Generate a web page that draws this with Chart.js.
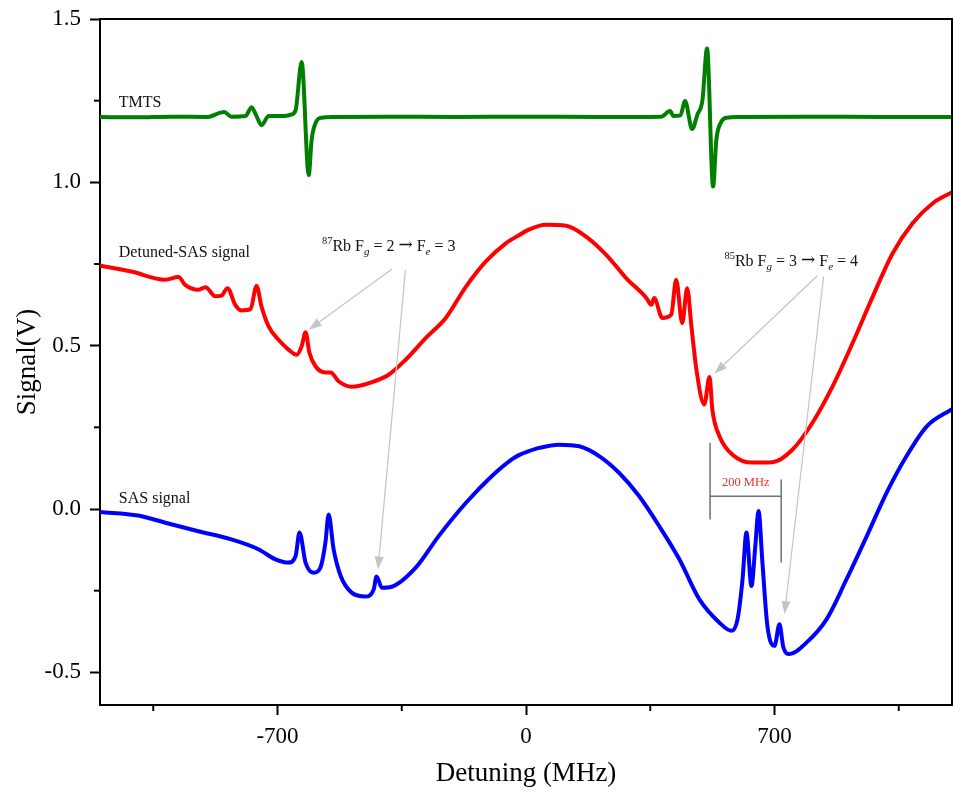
<!DOCTYPE html>
<html><head><meta charset="utf-8">
<script src="https://cdn.jsdelivr.net/npm/chart.js@4.4.1/dist/chart.umd.min.js"></script>
<style>html,body{margin:0;padding:0;background:#fff;}#wrap{width:953px;height:796px;}</style>
</head><body><div id="wrap"><canvas id="c" width="953" height="796"></canvas></div>
<script>
// ---- data (Detuning in MHz, Signal in V) ----
const tmtsX = [-1200,-1100,-1000,-900,-850,-830,-790,-773,-760,-745,-725,-680,-660,-649,-632,-612,-604,-593,-576,-540,-400,-200,0,200,380,406,415,435,448,468,483,497,510,527,536,550,565,600,800,1000,1200];
const tmtsY = [1.200,1.199,1.201,1.200,1.215,1.201,1.203,1.230,1.205,1.175,1.203,1.203,1.208,1.221,1.368,1.022,1.129,1.181,1.198,1.200,1.201,1.200,1.201,1.200,1.201,1.218,1.203,1.205,1.249,1.163,1.208,1.251,1.410,0.987,1.129,1.185,1.198,1.200,1.201,1.200,1.200];

const detunedX = [-1200,-1112,-1016,-979,-960,-923,-903,-875,-858,-841,-819,-802,-776,-759,-745,-725,-697,-669,-646,-632,-621,-610,-593,-565,-550,-528,-491,-435,-387,-339,-282,-226,-169,-113,-56,-20,8,56,113,169,226,282,339,353,361,384,409,423,440,454,466,480,502,517,525,545,581,638,694,751,807,864,920,977,1033,1089,1146,1200];
const detunedY = [0.745,0.727,0.702,0.710,0.686,0.671,0.679,0.651,0.653,0.676,0.625,0.608,0.612,0.683,0.620,0.559,0.518,0.488,0.472,0.498,0.541,0.478,0.437,0.418,0.418,0.391,0.374,0.388,0.411,0.457,0.524,0.585,0.681,0.758,0.814,0.838,0.855,0.870,0.867,0.834,0.778,0.707,0.646,0.625,0.646,0.585,0.595,0.702,0.569,0.676,0.559,0.427,0.320,0.404,0.304,0.223,0.167,0.142,0.143,0.182,0.264,0.376,0.508,0.651,0.783,0.875,0.936,0.970];

const sasX = [-1200,-1092,-1016,-923,-830,-754,-706,-669,-649,-638,-621,-598,-579,-565,-556,-542,-522,-491,-452,-429,-421,-406,-378,-310,-246,-169,-96,-40,-20,8,37,93,150,206,262,319,375,432,488,545,579,596,610,621,635,646,655,666,680,700,714,725,742,790,847,903,960,1016,1072,1129,1200];
const sasY = [-0.009,-0.020,-0.042,-0.068,-0.093,-0.123,-0.154,-0.164,-0.144,-0.072,-0.164,-0.195,-0.179,-0.103,-0.017,-0.123,-0.205,-0.256,-0.268,-0.246,-0.207,-0.241,-0.238,-0.179,-0.083,0.019,0.101,0.152,0.165,0.177,0.187,0.197,0.192,0.162,0.111,0.039,-0.052,-0.154,-0.276,-0.348,-0.373,-0.337,-0.215,-0.072,-0.236,-0.113,-0.006,-0.164,-0.358,-0.419,-0.353,-0.424,-0.444,-0.409,-0.337,-0.215,-0.083,0.050,0.162,0.253,0.306];

const xMajorTicks = [-700, 0, 700];
const xMinorTicks = [-1050, -350, 350, 1050];
const yMajorTicks = [-0.5, 0.0, 0.5, 1.0, 1.5];
const yMinorTicks = [-0.25, 0.25, 0.75, 1.25];

const FONT = "'Liberation Serif','Times New Roman',serif";

function pts(xs, ys) { return xs.map((x, i) => ({x: x, y: ys[i]})); }

// annotation layout in data coordinates
const labels = [
  {text: 'TMTS', x: -1147, y: 1.2295},
  {text: 'Detuned-SAS signal', x: -1147, y: 0.771},
  {text: 'SAS signal', x: -1147, y: 0.019}
];
const richLabels = [
  {x: -575, y: 0.790, iso: '87', g: '2', e: '3'},
  {x: 559, y: 0.7445, iso: '85', g: '3', e: '4'}
];
const arrows = [
  [-377, 0.735, -612, 0.549],
  [-339.6, 0.732, -417, -0.185],
  [820.5, 0.714, 530.6, 0.414],
  [838.3, 0.712, 728.2, -0.322]
];

const overlay = {
  id: 'overlay',
  afterDraw(chart) {
    const ctx = chart.ctx, xs = chart.scales.x, ys = chart.scales.y, a = chart.chartArea;
    const X = v => xs.getPixelForValue(v), Y = v => ys.getPixelForValue(v);
    ctx.save();
    // frame top/right
    ctx.strokeStyle = '#000'; ctx.lineWidth = 2;
    ctx.beginPath();
    ctx.moveTo(a.left, a.top); ctx.lineTo(a.right, a.top); ctx.lineTo(a.right, a.bottom);
    ctx.stroke();
    // minor ticks
    ctx.lineWidth = 2;
    xMinorTicks.forEach(v => { const p = X(v); ctx.beginPath(); ctx.moveTo(p, a.bottom); ctx.lineTo(p, a.bottom + 6); ctx.stroke(); });
    yMinorTicks.forEach(v => { const p = Y(v); ctx.beginPath(); ctx.moveTo(a.left, p); ctx.lineTo(a.left - 6, p); ctx.stroke(); });

    // arrows
    ctx.strokeStyle = '#c4c4c4'; ctx.fillStyle = '#c4c4c4'; ctx.lineWidth = 1.2;
    arrows.forEach(([x1, y1, x2, y2]) => {
      const px1 = X(x1), py1 = Y(y1), px2 = X(x2), py2 = Y(y2);
      const ang = Math.atan2(py2 - py1, px2 - px1);
      const L = 13, W = 4.5;
      const bx = px2 - L * Math.cos(ang), by = py2 - L * Math.sin(ang);
      ctx.beginPath(); ctx.moveTo(px1, py1); ctx.lineTo(bx, by); ctx.stroke();
      ctx.beginPath();
      ctx.moveTo(px2, py2);
      ctx.lineTo(bx + W * Math.sin(ang), by - W * Math.cos(ang));
      ctx.lineTo(bx - W * Math.sin(ang), by + W * Math.cos(ang));
      ctx.closePath(); ctx.fill();
    });

    // bracket 200 MHz
    ctx.strokeStyle = '#707070'; ctx.lineWidth = 1.5;
    ctx.beginPath();
    ctx.moveTo(X(518.5), Y(0.203)); ctx.lineTo(X(518.5), Y(-0.032));
    ctx.moveTo(X(718.9), Y(0.090)); ctx.lineTo(X(718.9), Y(-0.164));
    ctx.moveTo(X(518.5), Y(0.039)); ctx.lineTo(X(718.9), Y(0.039));
    ctx.stroke();
    ctx.fillStyle = '#ee3030'; ctx.font = '12.5px ' + FONT; ctx.textAlign = 'center'; ctx.textBaseline = 'alphabetic';
    ctx.fillText('200 MHz', X(619), Y(0.069));

    // plain labels
    ctx.fillStyle = '#111'; ctx.textAlign = 'left'; ctx.font = '16px ' + FONT;
    labels.forEach(l => ctx.fillText(l.text, X(l.x), Y(l.y)));

    // rich labels
    richLabels.forEach(r => {
      let x = X(r.x); const y = Y(r.y);
      const seg = (t, font, dy) => { ctx.font = font; ctx.fillText(t, x, y + dy); x += ctx.measureText(t).width; };
      seg(r.iso, '10.5px ' + FONT, -7);
      seg('Rb F', '16px ' + FONT, 0);
      seg('g', 'italic 11px ' + FONT, 4);
      seg(' = ' + r.g + ' ', '16px ' + FONT, 0);
      seg('\u2192', "17px 'DejaVu Serif'", -0.5);
      seg(' F', '16px ' + FONT, 0);
      seg('e', 'italic 11px ' + FONT, 4);
      seg(' = ' + r.e, '16px ' + FONT, 0);
    });
    ctx.restore();
  }
};

const lineDs = (label, xs, ys, color) => ({
  label, data: pts(xs, ys), borderColor: color, backgroundColor: color,
  borderWidth: 4, pointRadius: 0, cubicInterpolationMode: 'monotone', fill: false
});

new Chart(document.getElementById('c'), {
  type: 'line',
  data: { datasets: [
    lineDs('TMTS', tmtsX, tmtsY, '#008000'),
    lineDs('Detuned-SAS signal', detunedX, detunedY, '#ff0000'),
    lineDs('SAS signal', sasX, sasY, '#0000ff')
  ]},
  options: {
    responsive: false, animation: false, devicePixelRatio: 1,
    layout: { padding: { top: 19, right: 1, left: 0, bottom: 0 } },
    plugins: { legend: { display: false }, tooltip: { enabled: false } },
    scales: {
      x: {
        type: 'linear', min: -1200, max: 1200,
        afterBuildTicks: ax => { ax.ticks = xMajorTicks.map(v => ({value: v})); },
        afterFit: s => { s.height = 91; s.paddingLeft = 0; s.paddingRight = 0; },
        ticks: { color: '#000', font: { family: FONT, size: 23 }, padding: 8, maxRotation: 0, autoSkip: false, callback: v => String(v) },
        grid: { display: true, drawOnChartArea: false, drawTicks: true, tickLength: 10, tickWidth: 2, tickColor: '#000' },
        border: { display: true, color: '#000', width: 2 },
        title: { display: true, text: 'Detuning (MHz)', color: '#000', font: { family: FONT, size: 27 }, padding: { top: 0, bottom: 6 } }
      },
      y: {
        type: 'linear', min: -0.6, max: 1.5,
        afterBuildTicks: ax => { ax.ticks = yMajorTicks.map(v => ({value: v})); },
        afterFit: s => { s.width = 100; s.paddingTop = 0; s.paddingBottom = 0; },
        ticks: { color: '#000', font: { family: FONT, size: 23 }, padding: 9, autoSkip: false, callback: v => Number(v).toFixed(1) },
        grid: { display: true, drawOnChartArea: false, drawTicks: true, tickLength: 10, tickWidth: 2, tickColor: '#000' },
        border: { display: true, color: '#000', width: 2 },
        title: { display: true, text: 'Signal(V)', color: '#000', font: { family: FONT, size: 27 }, padding: { top: 12, bottom: 0 } }
      }
    }
  },
  plugins: [overlay]
});
</script>
</body></html>
